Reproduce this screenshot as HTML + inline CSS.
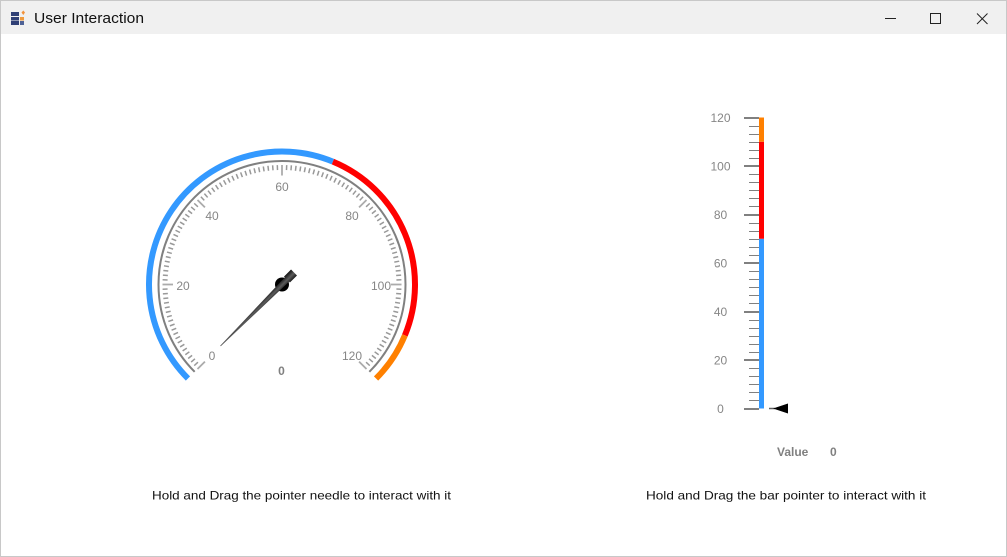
<!DOCTYPE html>
<html lang="en">
<head>
<meta charset="utf-8">
<title>User Interaction</title>
<style>
html,body{margin:0;padding:0;background:#fff;width:1007px;height:557px;overflow:hidden}
svg{display:block;font-family:"Liberation Sans",sans-serif}
</style>
</head>
<body>
<svg id="stage" width="1007" height="557" viewBox="0 0 1007 557">
  <defs>
    <linearGradient id="needleGrad" gradientUnits="userSpaceOnUse">
      <stop offset="0" stop-color="#111"/>
      <stop offset="0.55" stop-color="#5c5c5c"/>
      <stop offset="1" stop-color="#1c1c1c"/>
    </linearGradient>
  </defs>
  <rect x="0.5" y="0.5" width="1006" height="556" fill="#fff" stroke="#c8c8c8"/>
  <rect x="1" y="1" width="1005" height="33" fill="#f0f0f0"/>
  <g>
    <rect x="11" y="12" width="8" height="4" fill="#2f3f75"/>
    <rect x="11" y="17" width="8" height="3.500" fill="#2f3f75"/>
    <rect x="11" y="21" width="8" height="4" fill="#2f3f75"/>
    <rect x="20" y="17" width="4" height="3.500" fill="#ef9a3c"/>
    <rect x="20" y="21" width="4" height="4" fill="#4f6296"/>
    <path d="M23.300 10.500L25 12.500L23.300 15L21.500 12.500Z" fill="#f2923a"/>
  </g>
  <text x="34" y="23" font-size="15" fill="#111" textLength="110" lengthAdjust="spacingAndGlyphs">User Interaction</text>
  <line x1="885" y1="18.500" x2="896" y2="18.500" stroke="#222"/>
  <rect x="930.500" y="13.500" width="10" height="10" fill="none" stroke="#222"/>
  <path d="M977 13.500L987.500 24M987.500 13.500L977 24" stroke="#222" fill="none"/>

  <g id="gauge"></g>
  <g id="linear"></g>

  <text x="152" y="499.500" font-size="12" fill="#111" textLength="299" lengthAdjust="spacingAndGlyphs">Hold and Drag the pointer needle to interact with it</text>
  <text x="646" y="499.500" font-size="12" fill="#111" textLength="280" lengthAdjust="spacingAndGlyphs">Hold and Drag the bar pointer to interact with it</text>
</svg>
<script>
const scaleMin = 0;
const scaleMax = 120;
const tickLabels = [0, 20, 40, 60, 80, 100, 120];
const rangeEnds = [70, 110, 120];
const rangeColors = ['#3399ff', '#ff0000', '#ff8000'];
const pointerValue = 0;
const barPointerValue = 0;

const NS = 'http://www.w3.org/2000/svg';
function make(parent, tag, attrs, text) {
  const el = document.createElementNS(NS, tag);
  for (const k in attrs) el.setAttribute(k, attrs[k]);
  if (text !== undefined) el.textContent = text;
  parent.appendChild(el);
  return el;
}

/* circular gauge */
const gauge = document.getElementById('gauge');
const cx = 282, cy = 284.5;
function angleOf(v) {
  return (-135 + (v - scaleMin) / (scaleMax - scaleMin) * 270) * Math.PI / 180;
}
function polar(r, v) {
  const a = angleOf(v);
  return [cx + r * Math.sin(a), cy - r * Math.cos(a)];
}
function arcPath(r, v0, v1) {
  const p0 = polar(r, v0), p1 = polar(r, v1);
  const large = (v1 - v0) / (scaleMax - scaleMin) * 270 > 180 ? 1 : 0;
  return 'M' + p0[0] + ' ' + p0[1] + 'A' + r + ' ' + r + ' 0 ' + large + ' 1 ' + p1[0] + ' ' + p1[1];
}
let rangeStart = scaleMin;
rangeEnds.forEach(function (end, i) {
  const seg = make(gauge, 'path', {d: arcPath(133, rangeStart, end), fill: 'none', stroke: rangeColors[i], 'stroke-width': 6});
  
  
  rangeStart = end;
});
const rim = make(gauge, 'path', {d: arcPath(123.500, scaleMin, scaleMax), fill: 'none', stroke: '#808080', 'stroke-width': 2});


for (let v = scaleMin; v <= scaleMax; v += 1) {
  const major = v % 20 === 0;
  const a = polar(119.500, v), b = polar(major ? 109 : 114.500, v);
  const tick = make(gauge, 'line', {x1: a[0], y1: a[1], x2: b[0], y2: b[1], stroke: major ? '#ababab' : '#999', 'stroke-width': major ? 1.800 : 1.500});
  
  
}
tickLabels.forEach(function (v) {
  const p = polar(99, v);
  const label = make(gauge, 'text', {x: p[0], y: p[1] + 5.500, 'text-anchor': 'middle', 'font-size': 12, fill: '#868686'}, String(v));
  
  
});
const gaugeValue = make(gauge, 'text', {x: 281.5, y: 375, 'text-anchor': 'middle', 'font-size': 12, 'font-weight': 'bold', fill: '#808080'}, String(pointerValue));



const cap = make(gauge, 'circle', {cx: cx, cy: cy, r: 7, fill: '#000'});


function needleXY(r, w) {
  const a = angleOf(pointerValue);
  return [cx + r * Math.sin(a) + w * Math.cos(a), cy - r * Math.cos(a) + w * Math.sin(a)];
}
function needlePoint(r, w) {
  return needleXY(r, w).join(',');
}
const grad = document.getElementById('needleGrad');
const gradStart = needleXY(0, 4.2), gradEnd = needleXY(0, -4.2);
grad.setAttribute('x1', gradStart[0]);
grad.setAttribute('y1', gradStart[1]);
grad.setAttribute('x2', gradEnd[0]);
grad.setAttribute('y2', gradEnd[1]);
const needle = make(gauge, 'polygon', {
  points: [needlePoint(87, 0.4), needlePoint(-7, 3), needlePoint(-7, 4.2), needlePoint(-17, 4.2),
           needlePoint(-17, -4.2), needlePoint(-7, -4.2), needlePoint(-7, -3), needlePoint(87, -0.4)].join(' '),
  fill: 'url(#needleGrad)'
});



/* linear gauge */
const linear = document.getElementById('linear');
function yOf(v) {
  return 408.5 - (v - scaleMin) / (scaleMax - scaleMin) * 291;
}
let barStart = scaleMin;
rangeEnds.forEach(function (end, i) {
  const bar = make(linear, 'rect', {x: 759, y: yOf(end), width: 5, height: yOf(barStart) - yOf(end), fill: rangeColors[i]});
  
  
  barStart = end;
});
const majorStep = 20;
const minorPerMajor = 6;
for (let m = 0; m <= (scaleMax - scaleMin) / majorStep * minorPerMajor; m += 1) {
  const v = scaleMin + m * majorStep / minorPerMajor;
  const major = m % minorPerMajor === 0;
  const y = Math.round(yOf(v)) + (major ? 0 : 0.5);
  const tick = make(linear, 'line', {x1: major ? 744 : 749, y1: y, x2: 759, y2: y, stroke: '#808080', 'stroke-width': major ? 2 : 1});
  
  
}
tickLabels.forEach(function (v) {
  const label = make(linear, 'text', {x: 720.5, y: yOf(v) + 4.500, 'text-anchor': 'middle', 'font-size': 12, fill: '#868686'}, String(v));
  
  
});
const py = yOf(barPointerValue);
const stem = make(linear, 'line', {x1: 769, y1: py, x2: 775, y2: py, stroke: '#606060', 'stroke-width': 1.5});


const pointer = make(linear, 'polygon', {points: '773,' + py + ' 788,' + (py - 5) + ' 788,' + (py + 5), fill: '#000'});


const valueLabel = make(linear, 'text', {x: 777, y: 456, 'font-size': 12, 'font-weight': 'bold', fill: '#808080'}, 'Value');


const valueText = make(linear, 'text', {x: 830, y: 456, 'font-size': 12, 'font-weight': 'bold', fill: '#808080'}, String(barPointerValue));


</script>
</body>
</html>
